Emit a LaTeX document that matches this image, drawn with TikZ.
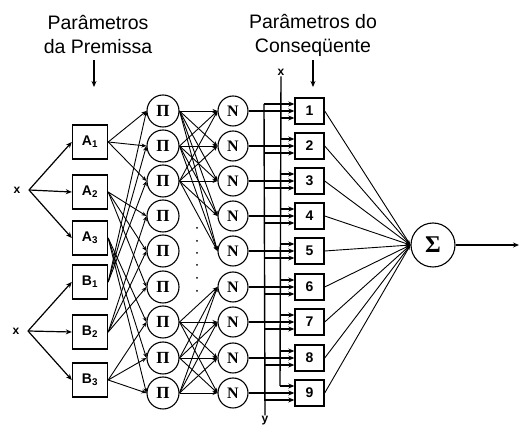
\documentclass[tikz,border=0pt]{standalone}
\usepackage{fontspec}
\setmainfont{Liberation Sans}
\newfontfamily\serfont{Liberation Serif}
\usetikzlibrary{arrows.meta}
\begin{document}
\begin{tikzpicture}[x=1pt,y=-1pt,
  lbox/.style={draw,line width=1.4pt,minimum width=35pt,minimum height=34pt,inner sep=0pt,font=\bfseries\fontsize{14}{14}\selectfont},
  cbox/.style={draw,line width=1.4pt,minimum width=29pt,minimum height=26pt,inner sep=0pt,font=\bfseries\fontsize{14}{14}\selectfont},
  pinode/.style={draw,circle,line width=1.1pt,minimum size=32pt,inner sep=0pt,font=\serfont\bfseries\fontsize{17}{17}\selectfont},
  nnode/.style={draw,circle,line width=1.1pt,minimum size=30pt,inner sep=0pt,font=\serfont\bfseries\fontsize{16}{16}\selectfont},
  snode/.style={draw,circle,line width=1.1pt,minimum size=44pt,inner sep=0pt,font=\serfont\bfseries\fontsize{24}{24}\selectfont},
  title/.style={align=center,font=\fontsize{19.5}{24}\selectfont,inner sep=0pt},
  lab/.style={font=\bfseries\fontsize{12}{12}\selectfont,inner sep=1pt},
  arr/.style={-{Stealth[length=6pt,width=5pt]},line width=1.2pt},
  arrt/.style={-{Stealth[length=5pt,width=4pt]},line width=0.9pt},
  arrs/.style={-{Stealth[length=5pt,width=3pt]},line width=0.9pt},
  vline/.style={line width=1.4pt}]
\useasboundingbox (0,0) rectangle (523,427);

% titles
\node[title] (t1) at (98,35) {Parâmetros\\da Premissa};
\node[title] (t2) at (313,35) {Parâmetros do\\Conseqüente};
\coordinate (t1a) at (94,60); \coordinate (t1b) at (94,87);
\coordinate (t2a) at (313,60); \coordinate (t2b) at (313,87);
\draw[arr] (t1a) -- (t1b);
\draw[arr] (t2a) -- (t2b);

% inputs
\node[lab] (x1) at (17,190) {x};
\node[lab] (x2) at (16,331) {x};
\coordinate (x1o) at (29,190);
\coordinate (x2o) at (28,331);

% premise boxes
\node[lbox] (A1) at (90,142) {A\textsubscript{1}};
\node[lbox] (A2) at (90,192) {A\textsubscript{2}};
\node[lbox] (A3) at (90,238) {A\textsubscript{3}};
\node[lbox] (B1) at (90,282) {B\textsubscript{1}};
\node[lbox] (B2) at (90,332) {B\textsubscript{2}};
\node[lbox] (B3) at (90,380) {B\textsubscript{3}};
\foreach \i in {1,2,3} {
  \draw[arr] (x1o) -- (A\i.west);
  \draw[arr] (x2o) -- (B\i.west);
}

% product, normalisation and consequent nodes
\foreach \i/\y in {1/111,2/146,3/181,4/216,5/251,6/287,7/322,8/358,9/393} {
  \node[pinode] (P\i) at (163,\y) {Π};
  \node[nnode] (N\i) at (233,\y) {N};
  \node[cbox] (C\i) at (309.5,\y) {\i};
}

% premise -> product
\foreach \a/\p in {1/1,1/2,1/3,2/4,2/5,2/6,3/7,3/8,3/9} {
  \draw[arrt] (A\a.east) -- (P\p.west);
  \draw[arrt] (B\a.east) -- (P\p.west);
}

% product -> normalisation
\foreach \p in {1,2,3} \foreach \n in {1,...,5} \draw[arrt] (P\p.east) -- (N\n.west);
\foreach \p in {7,8,9} \foreach \n in {6,...,9} \draw[arrt] (P\p.east) -- (N\n.west);

% dots
\foreach \y in {228,241,253,265,278,291} \fill (197,\y) circle (1pt);

% normalisation -> consequent
\foreach \i in {1,...,9} \draw[arr] (N\i.east) -- (C\i.west);

% x and y lines
\node[lab] (xl) at (281,72) {x};
\node[lab] (yl) at (265,421) {y};
\coordinate (yt1) at (264,104);
\coordinate (xt1) at (280,118);
\foreach \i/\y in {2/146,3/181,4/216,5/251,6/287,7/322,8/358,9/393} {
  \coordinate (xt\i) at (280,\y-7);
  \coordinate (yt\i) at (264,\y+7);
}
\draw[vline] (xl.south) -- (xt9);
\draw[vline] (yt1) -- (yl.north);
\draw[arr] (yt1) -- (yt1 -| C1.west);
\draw[arr] (xt1) -- (xt1 -| C1.west);
\foreach \i in {2,...,9} {
  \draw[arr] (xt\i) -- (xt\i -| C\i.west);
  \draw[arr] (yt\i) -- (yt\i -| C\i.west);
}

% sum
\node[snode] (S) at (433,245) {Σ};
\foreach \i in {1,...,9} \draw[arrs] (C\i.east) -- (S.west);
\coordinate (out) at (519,245);
\draw[arr] (S.east) -- (out);
\end{tikzpicture}
\end{document}
